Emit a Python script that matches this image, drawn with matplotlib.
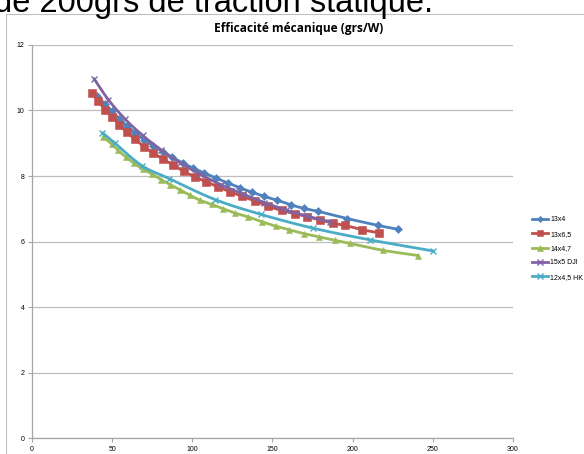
import numpy as np
import matplotlib.pyplot as plt
from matplotlib.patches import Rectangle

# Puissance (W) et efficacité (grs/W) par hélice
x_13x4 = [40.5, 45.5, 50, 54.5, 59.5, 64.5, 70, 75.5, 81.5, 87.5, 94, 100.5,
          107.5, 114.5, 122, 129.5, 137, 144.7, 153, 161.4, 169.7, 178.6,
          196.7, 216, 228.5]
y_13x4 = [10.45, 10.2, 9.97, 9.74, 9.52, 9.31, 9.11, 8.92, 8.74, 8.57, 8.4,
          8.24, 8.09, 7.94, 7.79, 7.64, 7.51, 7.38, 7.26, 7.12, 7.01, 6.92,
          6.7, 6.49, 6.37]

x_13x65 = [37.2, 41.4, 45.5, 50.1, 54.5, 59.1, 64.3, 69.9, 75.7, 81.9, 88.1,
           94.8, 101.7, 108.5, 115.8, 123.5, 130.8, 139.1, 147.4, 155.8, 164,
           171.5, 179.5, 187.6, 195.3, 206, 216.7]
y_13x65 = [10.54, 10.28, 10.03, 9.8, 9.56, 9.34, 9.12, 8.9, 8.7, 8.51, 8.33,
           8.14, 7.97, 7.83, 7.67, 7.52, 7.38, 7.24, 7.07, 6.95, 6.85, 6.76,
           6.66, 6.56, 6.49, 6.36, 6.26]

x_14x47 = [44.5, 49.7, 53.8, 58.6, 63.6, 69, 74.6, 80.5, 86.1, 92.3, 98.6,
           104.8, 112.1, 119.4, 126.6, 134.9, 143.6, 152, 160.4, 169.7, 179.2,
           189, 198.4, 219, 241]
y_14x47 = [9.19, 8.98, 8.78, 8.58, 8.39, 8.22, 8.07, 7.89, 7.74, 7.58, 7.41,
           7.26, 7.13, 7.0, 6.87, 6.75, 6.6, 6.47, 6.36, 6.24, 6.14, 6.04,
           5.94, 5.73, 5.57]

x_15x5 = [38.7, 47.6, 58, 69, 80.5, 92.5, 105, 118, 131.5, 145, 158.5, 172, 186]
y_15x5 = [10.97, 10.33, 9.74, 9.24, 8.8, 8.4, 8.05, 7.73, 7.45, 7.19, 6.96,
          6.77, 6.6]

x_12x45 = [43.9, 51.8, 68.4, 85.6, 114.2, 142.7, 175.1, 210.9, 250.3]
y_12x45 = [9.32, 9.0, 8.32, 7.92, 7.28, 6.83, 6.41, 6.05, 5.71]

labels = ["13x4", "13x6,5", "14x4,7", "15x5 DJI", "12x4,5 HK"]
colors = ["#4F81BD", "#C0504D", "#9BBB59", "#8064A2", "#4BACC6"]
markers = ["D", "s", "^", "x", "x"]
msizes = [4, 6, 5, 5, 5]


def smooth(xs, ys, n=12):
    # courbe lissée type Excel (Catmull-Rom) entre les points
    xs = np.asarray(xs, float)
    ys = np.asarray(ys, float)
    px = np.concatenate([[2 * xs[0] - xs[1]], xs, [2 * xs[-1] - xs[-2]]])
    py = np.concatenate([[2 * ys[0] - ys[1]], ys, [2 * ys[-1] - ys[-2]]])
    t = np.linspace(0, 1, n, endpoint=False)
    outx, outy = [], []
    for i in range(1, len(px) - 2):
        for p, out in ((px, outx), (py, outy)):
            p0, p1, p2, p3 = p[i - 1], p[i], p[i + 1], p[i + 2]
            out.extend(0.5 * (2 * p1 + (-p0 + p2) * t
                              + (2 * p0 - 5 * p1 + 4 * p2 - p3) * t ** 2
                              + (-p0 + 3 * p1 - 3 * p2 + p3) * t ** 3))
    outx.append(xs[-1])
    outy.append(ys[-1])
    return outx, outy


series = [(x_13x4, y_13x4), (x_13x65, y_13x65), (x_14x47, y_14x47),
          (x_15x5, y_15x5), (x_12x45, y_12x45)]

plt.rcParams['font.family'] = ['Liberation Sans', 'DejaVu Sans']

fig = plt.figure(figsize=(5.84, 4.54), dpi=100)

# texte coupé en haut de la capture
fig.text(-0.01, 0.973, "de 200grs de traction statique.", fontsize=23.5,
         ha="left", va="baseline", color="black")

# cadre du graphique
fig.patches.append(Rectangle((0.011, -0.1), 1.2, 0.1 + 0.969,
                             transform=fig.transFigure, fill=False,
                             edgecolor="#BFBFBF", linewidth=0.8))

fig.text(0.511, 0.937, "Efficacité mécanique (grs/W)", fontsize=8.6,
         fontweight="bold", ha="center", va="center",
         family=['Open Sans', 'DejaVu Sans'])

ax = fig.add_axes([0.0548, 0.0352, 0.8236, 0.8657])

for (xs, ys), lab, col, mk, ms in zip(series, labels, colors, markers, msizes):
    sx, sy = smooth(xs, ys)
    ax.plot(sx, sy, color=col, linewidth=2, solid_capstyle="round")
    ax.plot(xs, ys, linestyle="none", marker=mk, markersize=ms,
            color=col, markerfacecolor=col, markeredgecolor=col,
            markeredgewidth=1.0 if mk == "x" else 0.4)
    ax.plot([], [], color=col, linewidth=2, marker=mk,
            markersize=ms * 0.8, markeredgewidth=1.0 if mk == "x" else 0.4,
            label=lab)

ax.set_xlim(0, 300)
ax.set_ylim(0, 12)
ax.set_xticks(range(0, 301, 50))
ax.set_yticks(range(0, 13, 2))
ax.yaxis.grid(True, color="#BDBDBD", linewidth=0.9)
ax.set_axisbelow(True)
for side in ("top", "right"):
    ax.spines[side].set_visible(False)
for side in ("left", "bottom"):
    ax.spines[side].set_color("#A6A6A6")
    ax.spines[side].set_linewidth(0.9)
ax.tick_params(axis="both", labelsize=5, color="#A6A6A6", length=3,
               width=0.8, pad=2.5)

leg = ax.legend(loc="center left", bbox_to_anchor=(1.026, 0.482),
                frameon=False, fontsize=5, handlelength=2.3,
                labelspacing=1.05, handletextpad=0.4)

fig.savefig("out.png", dpi=100)
